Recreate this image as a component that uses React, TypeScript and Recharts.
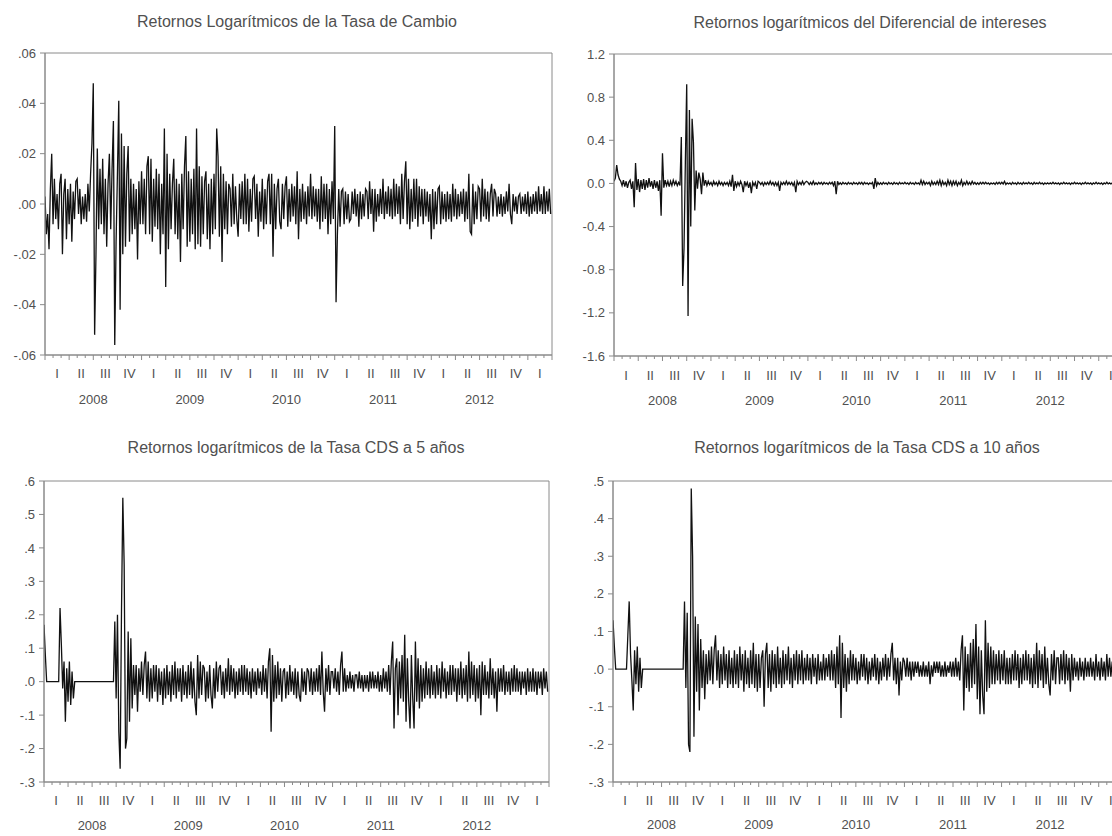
import React from 'react';
import { LineChart, Line, XAxis, YAxis, ReferenceArea } from 'recharts';

// ---------- data (6 observations per month, Jan 2008 .. Mar 2013) ----------
const PER_MONTH = 6;
const MONTHS = 63;
const quarterLabels = ['I', 'II', 'III', 'IV'];
const yearLabels = ['2008', '2009', '2010', '2011', '2012'];

const tasaCambio = [
  .003, -.012, -.004, -.018, .006, .020,
  -.008, .010, -.006, .004, -.010, .008,
  .012, -.020, .004, .010, -.014, .006,
  -.008, .008, -.015, .005, -.006, .009,
  .010, -.004, .006, -.008, .003, -.006,
  .004, -.007, .008, -.003, .012, .024,
  .048, -.052, -.020, .022, -.010, .014,
  -.008, .018, -.012, .010, -.017, .008,
  .020, -.010, .014, .033, -.056, -.015,
  .012, .041, -.042, .028, -.020, .023,
  -.017, .012, .023, -.015, .010, -.012,
  .008, -.010, .006, -.022, .009, -.008,
  .013, -.008, .010, -.012, .015, .019,
  -.012, .018, -.015, .010, -.009, .014,
  -.010, .012, -.020, .008, -.012, .030,
  -.033, .020, -.018, .012, -.010, .008,
  .018, -.012, .010, -.014, .008, -.023,
  .012, -.010, .015, .027, -.017, .013,
  -.015, .010, -.012, .014, -.018, .030,
  -.016, .015, -.017, .011, -.012, .009,
  .013, -.014, .008, -.018, .010, -.012,
  .012, -.010, .030, .019, -.013, .015,
  -.023, .012, -.010, .009, -.012, .008,
  .006, -.009, .012, -.008, .007, -.006,
  -.013, .008, -.006, .009, -.008, .012,
  -.008, .010, -.011, .006, -.007, .010,
  .011, -.006, .008, -.013, .005, -.007,
  .010, -.010, .006, -.008, .009, .012,
  -.008, .012, -.021, .008, -.010, .006,
  .010, -.007, -.010, .008, -.006, .007,
  .011, -.009, .006, -.007, .008, -.005,
  .007, -.008, .013, -.014, .006, -.007,
  .008, -.006, .005, -.008, .007, -.005,
  .012, -.006, .007, -.005, .006, -.007,
  .006, -.010, .011, -.007, .008, -.006,
  .008, -.012, .006, -.008, .009, -.006,
  .031, -.039, -.012, .006, -.009, .005,
  .006, -.008, .005, -.006, .004, -.007,
  -.006, .005, -.004, .006, -.005, .004,
  -.009, .005, -.006, .004, -.005, .006,
  .005, -.006, .009, -.004, .006, -.011,
  .006, -.007, .004, -.005, .006, -.004,
  .010, -.006, .005, -.004, .007, -.005,
  .006, -.006, .010, -.005, .008, -.004,
  .007, -.008, .012, -.006, .009, .017,
  -.008, .010, -.010, .006, -.007, .010,
  -.006, .010, -.009, .007, -.005, .006,
  -.008, .006, -.005, .005, -.007, .004,
  -.014, .006, -.010, .005, -.008, .006,
  .007, -.008, .005, -.006, .004, -.007,
  .005, -.006, .004, -.007, .008, -.005,
  .006, -.006, .004, -.005, .005, -.004,
  .006, -.007, .005, -.006, .012, -.011,
  -.012, .008, -.008, .005, -.006, .007,
  .006, -.007, .010, -.005, .006, -.006,
  .005, -.007, .004, .008, -.005, .006,
  .004, -.005, .003, -.004, .004, -.005,
  .003, -.004, .005, -.003, .008, -.004,
  -.008, .004, -.003, .003, -.004, .003,
  .004, -.004, .003, -.003, .004, -.004,
  .005, -.005, .003, -.004, .004, -.003,
  .005, -.004, .007, -.003, .004, -.004,
  .007, -.004, .005, -.003, .006, -.004,
];

const diferencial = [
  .02, .05, .17, .08, .04, .02,
  -.02, .03, -.03, .02, -.04, .01,
  .03, -.05, .02, -.22, .19, -.06,
  .04, -.08, .03, -.05, .04, -.06,
  .03, -.04, .05, -.03, .02, -.05,
  .03, -.04, .02, -.07, .03, -.30,
  .28, -.04, .03, -.02, .02, -.03,
  .02, -.02, .03, -.01, .02, -.02,
  .01, -.02, .43, -.95, -.60, .20,
  .92, -1.23, .68, -.40, .60, .38,
  -.25, .12, -.05, .10, .04, -.10,
  .10, -.02, .03, -.02, .02, -.01,
  .01, -.02, .02, -.01, .01, -.02,
  .02, -.01, .01, -.02, .01, -.01,
  .01, -.02, .02, -.03, .08, -.07,
  .02, -.03, .01, -.02, .02, -.01,
  -.08, .02, -.02, .01, -.04, .01,
  -.09, .01, -.02, .01, -.05, .02,
  .01, -.01, .01, -.02, .01, -.01,
  .01, -.01, .02, -.01, .01, -.02,
  .01, -.02, .01, -.07, .01, -.01,
  .01, -.01, .02, -.01, .01, -.01,
  .01, -.02, .01, -.08, .02, -.01,
  .01, -.01, .02, -.01, .01, .02,
  .01, -.01, .01, -.01, .02, -.01,
  .005, -.01, .01, -.005, .01, -.01,
  .01, -.005, .005, -.01, .01, -.005,
  .01, -.02, .02, -.10, .02, -.01,
  .005, -.01, .01, -.005, .005, -.01,
  .01, -.005, .005, -.01, .01, -.005,
  .005, -.01, .01, -.005, .01, -.01,
  .01, -.005, .005, -.01, .005, -.005,
  .01, -.05, .05, -.02, .01, -.01,
  .005, -.01, .01, -.005, .005, -.01,
  .01, -.005, .005, -.01, .01, -.005,
  .005, -.01, .01, -.005, .005, -.005,
  .01, -.005, .005, -.01, .01, -.005,
  .005, -.01, .01, -.005, .005, -.01,
  .03, -.01, .02, -.01, .01, -.005,
  .01, -.02, .02, -.01, .01, -.01,
  .02, -.01, .03, -.02, .02, -.01,
  .01, -.02, .03, -.01, .02, -.02,
  .02, -.01, .02, -.02, .01, -.01,
  .03, -.02, .01, -.01, .02, -.01,
  .01, -.01, .02, -.005, .01, -.01,
  .005, -.01, .01, -.005, .01, -.005,
  .01, -.005, .005, -.01, .005, -.005,
  .005, -.01, .01, -.005, .01, -.005,
  .01, -.005, .02, -.01, .005, -.005,
  .005, -.01, .01, -.005, .005, -.01,
  .01, -.005, .005, -.01, .01, -.005,
  .005, -.005, .01, -.005, .005, -.01,
  .01, -.005, .005, -.005, .01, -.005,
  .005, -.01, .005, -.005, .005, -.005,
  .005, -.005, .01, -.005, .005, -.005,
  .005, -.01, .005, -.005, .01, -.005,
  .005, -.005, .005, -.01, .005, -.005,
  .01, -.005, .005, -.005, .005, -.01,
  .005, -.005, .01, -.005, .005, -.005,
  .005, -.01, .005, -.005, .01, -.005,
  .005, -.005, .005, -.01, .005, -.005,
  .01, -.005, .005, -.005, .005, -.01,
  .005, -.005, .01, -.005, .005, -.005,
];

const cds5 = [
  .17, .08, 0, 0, 0, 0,
  0, 0, 0, 0, 0, 0,
  .22, .11, -.02, .06, -.12, .04,
  -.06, .06, -.07, .03, -.05, 0,
  0, 0, 0, 0, 0, 0,
  0, 0, 0, 0, 0, 0,
  0, 0, 0, 0, 0, 0,
  0, 0, 0, 0, 0, 0,
  0, 0, 0, 0, 0, .18,
  -.05, .20, -.15, -.26, .21, .55,
  .35, -.20, -.17, .15, -.12, .13,
  -.08, .05, -.04, .05, -.09, .04,
  -.03, .06, -.04, .05, .09, -.05,
  .06, -.06, .04, -.05, .05, -.03,
  .05, -.06, .04, -.04, .03, -.07,
  .04, -.05, .05, -.04, .03, -.06,
  .05, -.04, .06, -.05, .04, -.03,
  .04, -.06, .05, -.04, .03, -.05,
  .05, -.04, .06, -.05, .04, -.06,
  -.10, .08, -.05, .06, -.04, .05,
  .04, -.06, .03, -.05, .05, -.04,
  -.08, .04, -.05, .06, -.03, .04,
  .05, -.04, .03, -.05, .04, -.03,
  .07, -.04, .05, -.03, .04, -.05,
  .03, -.04, .04, -.03, .05, -.04,
  .05, -.03, .04, -.04, .03, -.05,
  .04, -.03, .03, -.04, .04, -.02,
  .03, -.04, .05, -.03, .04, -.05,
  .06, .10, -.15, .08, -.06, .05,
  -.05, .06, -.04, .04, -.06, .03,
  .04, -.05, .03, -.04, .05, -.03,
  .03, -.04, .04, -.05, .03, -.04,
  -.06, .04, -.03, .03, -.04, .04,
  .03, -.03, .04, -.04, .03, -.03,
  .04, -.03, .05, -.04, .09, -.03,
  -.09, .04, -.03, .05, -.04, .03,
  .03, -.02, .04, -.03, .03, -.04,
  .05, .09, -.03, .04, -.03, .02,
  -.02, .03, -.02, .02, -.03, .02,
  .02, -.02, .03, -.02, .02, -.03,
  .02, -.02, .02, -.03, .03, -.02,
  .03, -.02, .02, -.02, .03, -.03,
  .02, -.03, .04, -.02, .03, -.03,
  .05, -.04, .06, .12, -.14, .04,
  .07, -.10, .06, -.05, .08, -.06,
  .14, -.12, .07, -.06, -.14, .08,
  -.05, -.14, .12, -.06, .07, -.08,
  .05, -.06, .04, -.05, .06, -.04,
  .04, -.05, .05, -.04, .03, -.05,
  .05, -.04, .04, -.05, .06, -.03,
  .04, -.05, .03, -.04, .05, -.04,
  .05, -.03, .04, -.06, .04, -.04,
  .06, -.05, .04, -.04, .05, -.06,
  .09, -.05, .06, -.04, .05, -.06,
  .04, -.05, .05, -.10, .06, -.04,
  .05, -.04, .03, -.05, .07, -.04,
  .04, -.05, .03, -.09, .04, -.03,
  .04, -.03, .05, -.04, .03, -.03,
  .03, -.04, .04, -.03, .05, -.03,
  .04, -.03, .03, -.04, .03, -.02,
  .03, -.04, .04, -.03, .03, -.03,
  .04, -.03, .03, -.04, .03, -.02,
  .03, -.04, .04, -.02, .03, -.03,
];

const cds10 = [
  .13, .06, 0, 0, 0, 0,
  0, 0, 0, 0, 0, .09,
  .18, .04, -.03, -.11, .05, -.04,
  .06, -.06, .03, -.05, 0, 0,
  0, 0, 0, 0, 0, 0,
  0, 0, 0, 0, 0, 0,
  0, 0, 0, 0, 0, 0,
  0, 0, 0, 0, 0, 0,
  0, 0, 0, 0, 0, .18,
  -.05, .15, -.20, -.22, .48, .30,
  -.18, .14, -.06, .12, -.11, .08,
  -.05, .05, -.08, .04, -.04, .05,
  -.03, .06, -.04, .05, .09, -.03,
  .05, -.05, .04, -.04, .06, -.03,
  .04, -.05, .05, -.04, .03, -.05,
  .05, -.04, .04, -.05, .06, -.03,
  .04, -.06, .05, -.04, .03, -.05,
  .05, -.04, .07, -.05, .04, -.06,
  .04, -.05, .03, .05, -.10, .04,
  .07, -.05, .04, -.06, .05, -.04,
  .04, -.05, .06, -.04, .03, -.05,
  .05, -.04, .04, -.03, .06, -.04,
  .03, -.05, .04, -.03, .05, -.04,
  .04, -.03, .05, -.04, .03, -.03,
  .04, -.03, .03, -.04, .04, -.02,
  .03, -.04, .04, -.03, .02, -.03,
  .04, -.03, .03, -.02, .04, -.03,
  .05, -.03, .04, -.05, .06, -.04,
  .09, -.13, .07, -.05, .04, -.06,
  .03, -.04, .05, -.03, .04, -.03,
  .03, -.04, .02, -.03, .04, -.02,
  .04, -.03, .03, -.04, .02, -.03,
  .03, -.02, .04, -.03, .03, -.04,
  .02, -.03, .03, -.02, .04, -.03,
  .03, -.02, .04, .07, -.03, .03,
  -.04, .03, -.07, .02, -.03, .03,
  .02, -.02, .03, -.02, .02, -.03,
  .02, -.02, .02, -.01, .02, -.02,
  .01, -.02, .02, -.02, .01, -.02,
  .02, -.04, .01, -.02, .02, -.01,
  .02, -.01, .02, -.02, .01, -.02,
  .02, -.02, .01, -.01, .02, -.02,
  .02, -.02, .03, -.02, .02, -.03,
  .05, .09, -.11, .06, -.05, .04,
  -.06, .07, -.05, .08, -.04, .12,
  -.08, .06, -.12, .05, -.07, -.12,
  .13, -.06, .07, -.05, .06, -.04,
  .05, -.04, .04, -.03, .05, -.04,
  .04, -.03, .05, -.04, .03, -.04,
  .03, -.04, .04, -.03, .05, -.03,
  .04, -.05, .03, -.04, .04, -.03,
  .05, -.03, .04, -.04, .03, -.05,
  .04, -.04, .07, -.05, .05, -.03,
  .04, -.05, .06, -.04, .03, -.04,
  -.07, .04, -.03, .05, -.04, .03,
  .03, -.04, .04, -.03, .05, -.04,
  .04, -.03, .03, -.06, .04, -.03,
  .03, -.02, .02, -.03, .03, -.02,
  .02, -.03, .03, -.02, .02, -.02,
  .03, -.02, .02, -.03, .04, -.02,
  .02, -.03, .03, -.02, .02, -.03,
  .04, -.02, .03, -.02, .02, -.03,
  .02, -.03, .03, -.02, .03, -.02,
];

const yTicks1 = [-0.06, -0.04, -0.02, 0, 0.02, 0.04, 0.06];
const yLabels1 = ['-.06', '-.04', '-.02', '.00', '.02', '.04', '.06'];
const yTicks2 = [-1.6, -1.2, -0.8, -0.4, 0, 0.4, 0.8, 1.2];
const yLabels2 = ['-1.6', '-1.2', '-0.8', '-0.4', '0.0', '0.4', '0.8', '1.2'];
const yTicks3 = [-0.3, -0.2, -0.1, 0, 0.1, 0.2, 0.3, 0.4, 0.5, 0.6];
const yLabels3 = ['-.3', '-.2', '-.1', '.0', '.1', '.2', '.3', '.4', '.5', '.6'];
const yTicks4 = [-0.3, -0.2, -0.1, 0, 0.1, 0.2, 0.3, 0.4, 0.5];
const yLabels4 = ['-.3', '-.2', '-.1', '.0', '.1', '.2', '.3', '.4', '.5'];

// ---------- helpers ----------
const GREY = '#8a8a8a';
const TEXT = '#505050';
const FONT = '"Liberation Sans", Arial, sans-serif';

const monthTicks = Array.from({ length: MONTHS + 1 }, (_, i) => i);
const quarterCenters = Array.from({ length: 21 }, (_, q) => q * 3 + 1.5);
const xTicks = [...monthTicks, ...quarterCenters].sort((a, b) => a - b);

const toData = (vals: number[]) => vals.map((v, i) => ({ m: i / PER_MONTH, v }));

function renderXTick(props: any, qOff: number, yOff: number) {
  const { x, y, payload } = props;
  const v = payload.value;
  if (Number.isInteger(v)) {
    const len = v % 3 === 0 ? 5 : 3;
    const yi = (v - 6) / 12;
    return (
      <g>
        <line x1={x} x2={x} y1={y} y2={y + len} stroke={GREY} strokeWidth={1} />
        {v % 12 === 6 && yi < yearLabels.length ? (
          <text x={x} y={y + yOff} textAnchor="middle" dominantBaseline="central" fontSize={13} fill={TEXT} fontFamily={FONT}>
            {yearLabels[yi]}
          </text>
        ) : null}
      </g>
    );
  }
  const q = Math.round((v - 1.5) / 3);
  return (
    <text x={x} y={y + qOff} textAnchor="middle" dominantBaseline="central" fontSize={13} fill={TEXT} fontFamily={FONT}>
      {quarterLabels[q % 4]}
    </text>
  );
}

type PanelProps = {
  left: number; top: number; width: number; height: number;
  title: string; titleX: number; titleY: number;
  values: number[]; yTicks: number[]; yLabels: string[];
  yAxisWidth: number; margin: any; xAxisHeight: number; qOff: number; yOff: number;
};

function Panel(p: PanelProps) {
  const data = toData(p.values);
  const yDomain = [p.yTicks[0], p.yTicks[p.yTicks.length - 1]];
  const fmt = (v: number) => {
    const i = p.yTicks.findIndex((t) => Math.abs(t - v) < 1e-9);
    return i >= 0 ? p.yLabels[i] : '';
  };
  return (
    <>
      <div
        style={{
          position: 'absolute', left: p.titleX - 300, top: p.titleY - 10, width: 600,
          textAlign: 'center', fontSize: 16, lineHeight: '20px', color: TEXT, fontFamily: FONT,
        }}
      >
        {p.title}
      </div>
      <div style={{ position: 'absolute', left: p.left, top: p.top }}>
        <LineChart width={p.width} height={p.height} data={data} margin={p.margin}>
          <ReferenceArea
            x1={0} x2={MONTHS} y1={yDomain[0]} y2={yDomain[1]}
            fill="none" fillOpacity={0} stroke={GREY} strokeWidth={1} isAnimationActive={false}
          />
          <XAxis
            dataKey="m" type="number" domain={[0, MONTHS]} ticks={xTicks} interval={0}
            allowDataOverflow height={p.xAxisHeight} tickSize={0} tickMargin={0} tickLine={false}
            axisLine={{ stroke: GREY }} tick={(tp: any) => renderXTick(tp, p.qOff, p.yOff)}
          />
          <YAxis
            type="number" domain={yDomain} ticks={p.yTicks} interval={0} allowDataOverflow
            width={p.yAxisWidth} tickFormatter={fmt} tickSize={5} tickMargin={4}
            axisLine={{ stroke: GREY }} tickLine={{ stroke: GREY }}
            tick={{ fill: TEXT, fontSize: 13, fontFamily: FONT }}
          />
          <Line
            type="linear" dataKey="v" stroke="#111" strokeWidth={1.3} dot={false}
            activeDot={false} isAnimationActive={false}
          />
        </LineChart>
      </div>
    </>
  );
}

export default function App() {
  return (
    <div
      style={{
        position: 'absolute', left: 0, top: 0, width: 1112, height: 836,
        overflow: 'hidden', background: '#fff', fontFamily: FONT,
      }}
    >
      <Panel
        left={0} top={0} width={556} height={420}
        title="Retornos Logarítmicos de la Tasa de Cambio" titleX={297} titleY={22}
        values={tasaCambio} yTicks={yTicks1} yLabels={yLabels1}
        yAxisWidth={45} margin={{ top: 53, right: 4, bottom: 10, left: 0 }} xAxisHeight={55}
        qOff={18} yOff={44}
      />
      <Panel
        left={556} top={0} width={600} height={420}
        title="Retornos logarítmicos del Diferencial de intereses" titleX={870} titleY={23}
        values={diferencial} yTicks={yTicks2} yLabels={yLabels2}
        yAxisWidth={58} margin={{ top: 54, right: 33, bottom: 9, left: 0 }} xAxisHeight={55}
        qOff={19} yOff={44}
      />
      <Panel
        left={0} top={420} width={556} height={416}
        title="Retornos logarítmicos de la Tasa CDS a 5 años" titleX={296} titleY={448}
        values={cds5} yTicks={yTicks3} yLabels={yLabels3}
        yAxisWidth={44} margin={{ top: 61, right: 7, bottom: 4, left: 0 }} xAxisHeight={50}
        qOff={18} yOff={43}
      />
      <Panel
        left={556} top={420} width={600} height={416}
        title="Retornos logarítmicos de la Tasa CDS a 10 años" titleX={867} titleY={448}
        values={cds10} yTicks={yTicks4} yLabels={yLabels4}
        yAxisWidth={57} margin={{ top: 61, right: 33, bottom: 4, left: 0 }} xAxisHeight={50}
        qOff={18} yOff={42}
      />
    </div>
  );
}
